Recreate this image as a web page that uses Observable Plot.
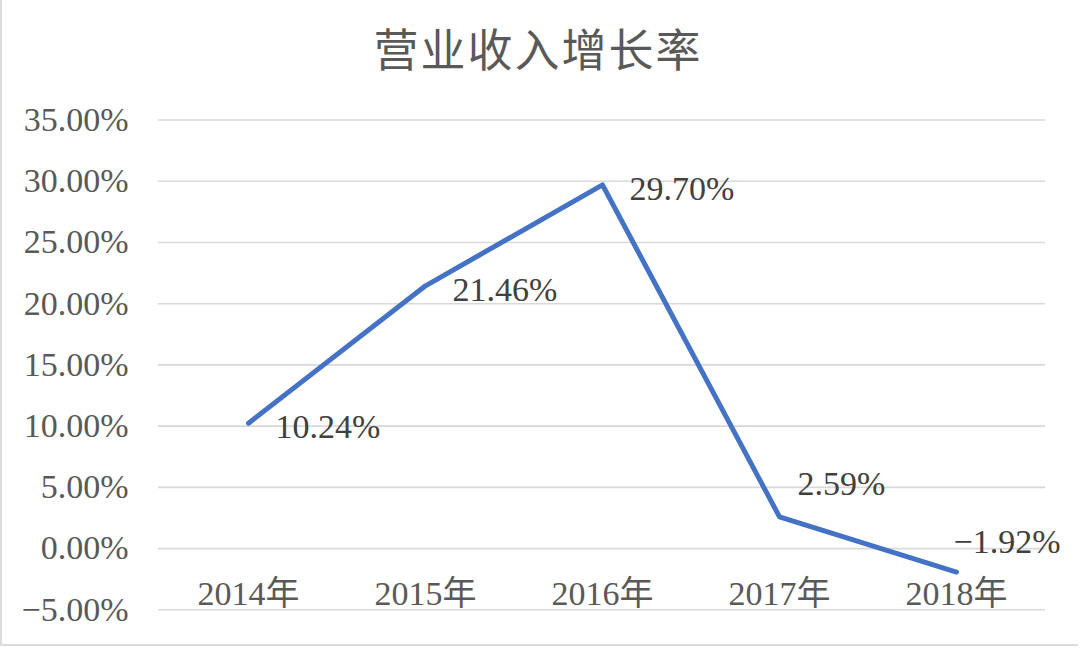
<!DOCTYPE html>
<html>
<head>
<meta charset="utf-8">
<script src="https://cdn.jsdelivr.net/npm/d3@7"></script>
<script src="https://cdn.jsdelivr.net/npm/@observablehq/plot@0.6"></script>
<style>
  html, body { margin: 0; padding: 0; background: #ffffff; }
  #wrap { position: relative; width: 1080px; height: 648px; overflow: hidden; background: #fff; }
  #frame { position: absolute; left: 0; top: 0; width: 1076px; height: 644px; border-left: 2px solid #dcdcdc; border-bottom: 2px solid #dcdcdc; pointer-events: none; }
  #title { position: absolute; left: 0; width: 1076px; top: 25px; text-align: center;
           font-family: "Noto Sans CJK SC", "Noto Sans", sans-serif; font-size: 45px; line-height: 1;
           letter-spacing: 2px; color: #595959; font-weight: 400; z-index: 2; }
  #chart { position: absolute; left: 0; top: 0; }
  #chart svg text { font-family: "Liberation Serif", "Noto Sans CJK SC", serif !important; }
</style>
</head>
<body>
<div id="wrap">
  <div id="title">营业收入增长率</div>
  <div id="chart"></div>
  <div id="frame"></div>
</div>
<script>
const years = ["2014年", "2015年", "2016年", "2017年", "2018年"];
const growth = [10.24, 21.46, 29.70, 2.59, -1.92];
const yTicks = [-5, 0, 5, 10, 15, 20, 25, 30, 35];

const data = years.map((y, i) => ({year: y, value: growth[i]}));
const fmt = v => (v < 0 ? "\u2212" : "") + Math.abs(v).toFixed(2) + "%";

const chart = Plot.plot({
  width: 1080,
  height: 648,
  marginLeft: 158,
  marginRight: 35,
  marginTop: 119.5,
  marginBottom: 38.7,
  style: {background: "transparent"},
  x: {type: "point", domain: years, padding: 0.5, axis: null},
  y: {domain: [-5, 35], axis: null},
  marks: [
    Plot.ruleY(yTicks, {stroke: "#d9d9d9", strokeWidth: 1.6}),
    Plot.axisY({ticks: yTicks, tickSize: 0, tickPadding: 30, tickFormat: fmt, label: null,
                fontSize: 34, fill: "#595959"}),
    Plot.text(years, {x: d => d, frameAnchor: "bottom", dy: -16, lineAnchor: "middle",
                      fontSize: 34, fill: "#595959"}),
    Plot.line(data, {x: "year", y: "value", stroke: "#4472C4", strokeWidth: 5,
                     strokeLinejoin: "round", strokeLinecap: "round"}),
    Plot.text(data.slice(0, 3), {x: "year", y: "value", text: d => fmt(d.value),
                     textAnchor: "start", dx: 27, dy: 4, fontSize: 34, fill: "#404040"}),
    Plot.text(data.slice(3, 4), {x: "year", y: "value", text: d => fmt(d.value),
                     textAnchor: "start", dx: 18, dy: -33, fontSize: 34, fill: "#404040"}),
    Plot.text(data.slice(4, 5), {x: "year", y: "value", text: d => fmt(d.value),
                     textAnchor: "start", dx: -3, dy: -30, fontSize: 34, fill: "#404040"})
  ]
});
document.getElementById("chart").appendChild(chart);
</script>
</body>
</html>
